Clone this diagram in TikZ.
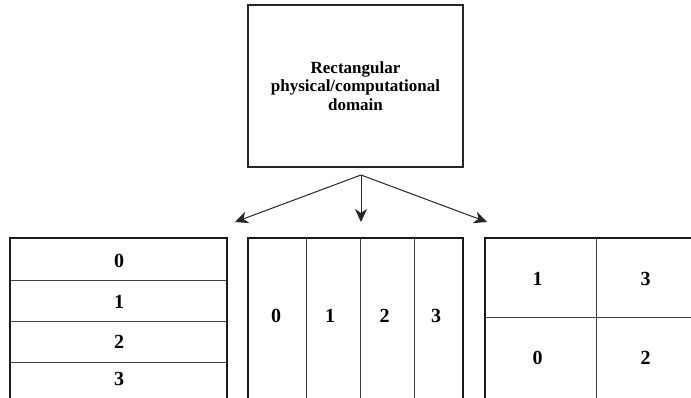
\documentclass[tikz,border=0pt]{standalone}
\usepackage{fontspec}
\setmainfont{Liberation Serif}
\usetikzlibrary{arrows.meta}
\begin{document}
\begin{tikzpicture}[x=1pt,y=-1pt,
  divider/.style={draw=black!75, line width=0.7pt},
  frame/.style={draw=black!90, line width=1.3pt},
  num/.style={inner sep=0pt, font=\fontsize{20}{22}\selectfont\bfseries},
  domainbox/.style={draw=black!85, line width=1.1pt, align=center, inner sep=0pt,
    minimum width=215pt, minimum height=162pt,
    font=\fontsize{17}{18.5}\selectfont\bfseries},
  arr/.style={draw=black!85, line width=1pt, -{Stealth[length=13pt,width=12pt,inset=4pt]}}]
\clip (0,0) rectangle (691,397);
\fill[white] (0,0) rectangle (691,397);
% top box
\node[domainbox] (dom) at (355.5,86) {Rectangular\\physical/computational\\domain};
\coordinate (split) at (361,175);
\coordinate (tl) at (235,222);
\coordinate (tm) at (361,222);
\coordinate (tr) at (487,222);
\draw[arr] (split) -- (tl);
\draw[arr] (split) -- (tm);
\draw[arr] (split) -- (tr);
% left grid (rows)
\draw[divider] (10,280) -- (227,280) (10,321) -- (227,321) (10,362) -- (227,362);
\draw[frame] (10,400) -- (10,238) -- (227,238) -- (227,400);
\node[num] (l0) at (119,261) {0};
\node[num] (l1) at (119,301.5) {1};
\node[num] (l2) at (119,342) {2};
\node[num] (l3) at (119,379) {3};
% middle grid (columns)
\draw[divider] (306,238) -- (306,400) (360,238) -- (360,400) (414,238) -- (414,400);
\draw[frame] (248,400) -- (248,238) -- (463,238) -- (463,400);
\node[num] (m0) at (276,316) {0};
\node[num] (m1) at (330,316) {1};
\node[num] (m2) at (384.5,316) {2};
\node[num] (m3) at (436,316) {3};
% right grid (2x2)
\draw[divider] (596,238) -- (596,400) (485,317) -- (695,317);
\draw[frame] (485,400) -- (485,238) -- (695,238);
\node[num] (r1) at (537.5,278.5) {1};
\node[num] (r3) at (645.5,278.5) {3};
\node[num] (r0) at (537.5,357.5) {0};
\node[num] (r2) at (645.5,357.5) {2};
\end{tikzpicture}
\end{document}
